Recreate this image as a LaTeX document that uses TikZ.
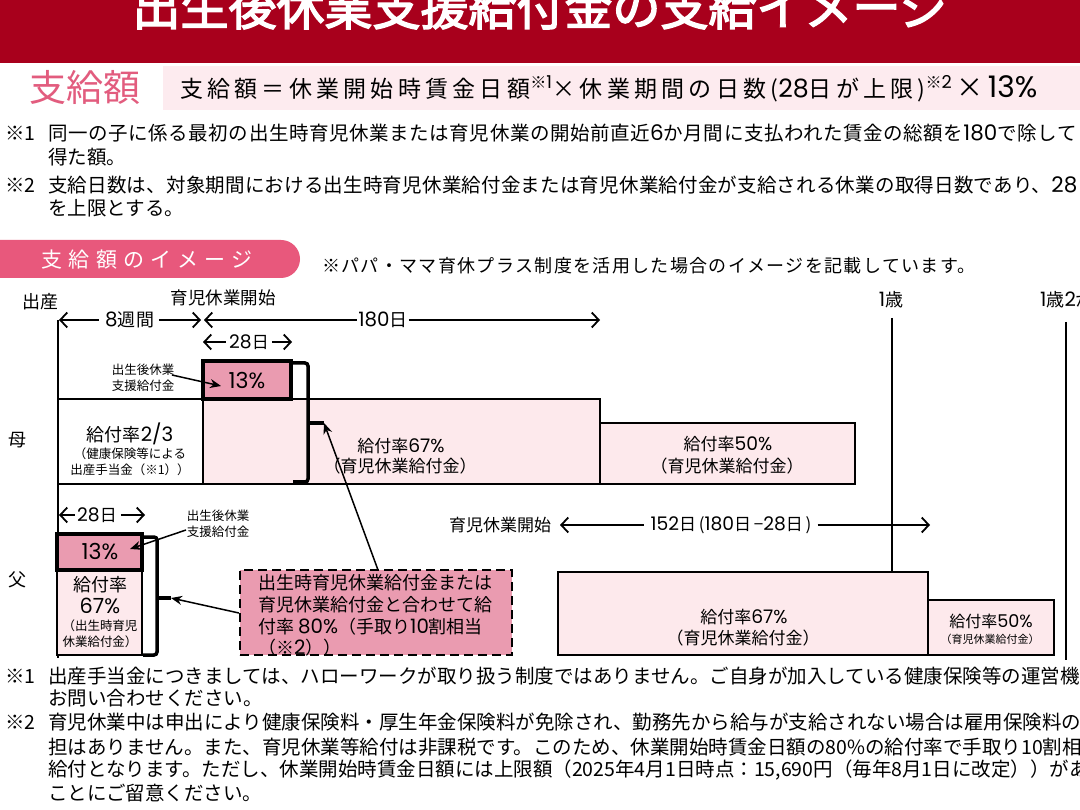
\documentclass[tikz,border=0pt]{standalone}
\usepackage{fontspec}
\setmainfont{Noto Sans CJK JP}
\newfontfamily\jpbold{Noto Sans CJK JP}[FakeBold=3]
\newfontfamily\digf{Poppins}[Scale=1.1]
\usetikzlibrary{arrows.meta}
\definecolor{hdr}{HTML}{A8001C}
\definecolor{pinktxt}{HTML}{E25C7E}
\definecolor{formbg}{HTML}{FDEBEF}
\definecolor{pill}{HTML}{E8587C}
\definecolor{midpink}{HTML}{EA9BB0}
\definecolor{lightpink}{HTML}{FDE9EC}
\newcommand\jfs[1]{\fontsize{#1}{#1}\selectfont}
\newcommand\lsp[1]{\addfontfeatures{LetterSpace=#1}}
\newcommand\dgt[1]{{\digf #1}}
\begin{document}
\begin{tikzpicture}[x=1pt,y=-1pt,
  t/.style={inner sep=0pt, font=\jfs{17}},
  ts/.style={inner sep=0pt, font=\jfs{12.5}},
  dl/.style={inner sep=0pt, font=\jfs{18}\lsp{6}},
  note/.style={inner sep=0pt, anchor=west, font=\jfs{19.5}},
  tnote/.style={inner sep=0pt, anchor=west, font=\jfs{19.5}\lsp{3}},
  blk/.style={draw=black, line width=1.5pt, fill=lightpink},
  wblk/.style={draw=black, line width=1.5pt, fill=white},
  pbox/.style={draw=black, line width=4pt, fill=midpink},
  brk/.style={draw=black, line width=3.5pt, rounded corners=3pt},
  vline/.style={draw=black, line width=2.5pt},
  la/.style={line width=1.8pt, {Straight Barb[length=7pt,width=15pt]}-},
  ra/.style={line width=1.8pt, -{Straight Barb[length=7pt,width=15pt]}},
  call/.style={line width=1.5pt, -{Stealth[length=11pt,width=9pt]}},
  ctxt/.style={inner sep=0pt, anchor=west, font=\jfs{18}}
]
\useasboundingbox (0,0) rectangle (1080,810);
\clip (0,0) rectangle (1080,810);
\fill[white] (0,0) rectangle (1080,810);

% header
\fill[hdr] (0,-5) rectangle (1080,63);
\node[inner sep=0pt, font=\jpbold\jfs{48}, text=white] (title) at (540,7) {出生後休業支援給付金の支給イメージ};

% formula
\fill[formbg] (163,66) rectangle (1085,110);
\node[inner sep=0pt, font=\jfs{37}, text=pinktxt] (amt) at (85,87) {支給額};
\node[inner sep=0pt, anchor=west, font=\jfs{23}\lsp{18.5}] (formula) at (180,89) {支給額＝休業開始時賃金日額\textsuperscript{※\dgt{1}}×休業期間の日数(\dgt{28}日が上限)\textsuperscript{※\dgt{2}}\,{\jfs{27}×\,\dgt{13\%}}};

% notes top
\node[note] (n1m) at (5,133) {※1};
\node[tnote] (n1a) at (48,133) {同一の子に係る最初の出生時育児休業または育児休業の開始前直近\dgt{6}か月間に支払われた賃金の総額を\dgt{180}で除して};
\node[note] (n1b) at (48,157) {得た額。};
\node[note] (n2m) at (5,185) {※2};
\node[inner sep=0pt, anchor=west, font=\jfs{19.5}\lsp{1}] (n2a) at (48,185) {支給日数は、対象期間における出生時育児休業給付金または育児休業給付金が支給される休業の取得日数であり、\dgt{28}日};
\node[note] (n2b) at (48,208) {を上限とする。};

% pill
\fill[pill, rounded corners=19pt] (-40,240) rectangle (300,278);
\node[inner sep=0pt, font=\jfs{21}\lsp{29}, text=white] (pilltxt) at (147,260) {支給額のイメージ};
\node[inner sep=0pt, anchor=west, font=\jfs{18}\lsp{7.5}] (plus) at (322,266) {※パパ・ママ育休プラス制度を活用した場合のイメージを記載しています。};

% timeline labels
\node[inner sep=0pt, font=\jfs{18}] (birth) at (40,302) {出産};
\node[inner sep=0pt, font=\jfs{17.5}] (start) at (223,298) {育児休業開始};
\node[dl] (age1) at (891,300) {\dgt{1}歳};
\node[dl, anchor=west] (age12) at (1040,300) {\dgt{1}歳\dgt{2}か月};

% vertical lines
\coordinate (v0t) at (58,320); \coordinate (v0b) at (58,658);
\coordinate (v1t) at (892,318); \coordinate (v1b) at (892,572);
\coordinate (v2t) at (1066,322); \coordinate (v2b) at (1066,660);
\draw[vline] (v0t) -- (v0b);
\draw[vline] (v1t) -- (v1b);
\draw[vline] (v2t) -- (v2b);

% top dimension row
\node[dl] (w8) at (130,320) {\dgt{8}週間};
\coordinate (w8l) at (59,320); \coordinate (w8r) at (201,320);
\draw[la] (w8l) -- ([xshift=-6pt]w8.west);
\draw[ra] ([xshift=4pt]w8.east) -- (w8r);
\node[dl] (d180) at (383,320) {\dgt{180}日};
\coordinate (d180l) at (204,320); \coordinate (d180r) at (600,320);
\draw[la] (d180l) -- ([xshift=-1pt]d180.west);
\draw[ra] ([xshift=1pt]d180.east) -- (d180r);
\node[inner sep=0pt, font=\jfs{17}\lsp{5}] (m28) at (249,342) {\dgt{28}日};
\coordinate (m28l) at (203,342); \coordinate (m28r) at (292,342);
\draw[la] (m28l) -- ([xshift=-3pt]m28.west);
\draw[ra] ([xshift=3pt]m28.east) -- (m28r);

% mother row
\node[inner sep=0pt, font=\jfs{18}] (mom) at (18,440) {母};
\path[wblk] (58,399) rectangle (203,484);
\path[blk] (203,399) rectangle (600,484);
\path[blk] (600,423) rectangle (855,484);
\node[inner sep=0pt, font=\jfs{18}] (m23a) at (130,434) {給付率\dgt{2/3}};
\node[ts] (m23b) at (130,454) {（健康保険等による};
\node[ts] (m23c) at (130,470) {出産手当金（※1））};
\node[t] (m67a) at (401,446) {給付率\dgt{67\%}};
\node[t] (m67b) at (400,466) {（育児休業給付金）};
\node[t] (m50a) at (728,444) {給付率\dgt{50\%}};
\node[t] (m50b) at (727,466) {（育児休業給付金）};
\path[pbox] (203,361) rectangle (291,399);
\node[inner sep=0pt, font=\jfs{20}] (m13) at (247,381) {\dgt{13\%}};
\draw[brk] (291,363) -- (308,363) -- (308,482) -- (293,482);
\coordinate (mtick) at (324,423);
\draw[line width=3.5pt] (308,423) -- (mtick);
\node[ts] (mlab1) at (143,370) {出生後休業};
\node[ts] (mlab2) at (143,386) {支援給付金};
\coordinate (mla) at (172,375); \coordinate (mlb) at (221,386);
\draw[call] (mla) -- (mlb);

% father row
\node[inner sep=0pt, font=\jfs{18}] (dad) at (18,580) {父};
\node[inner sep=0pt, font=\jfs{17}\lsp{5}] (f28) at (97,515) {\dgt{28}日};
\coordinate (f28l) at (59,515); \coordinate (f28r) at (145,515);
\draw[la] (f28l) -- ([xshift=-2pt]f28.west);
\draw[ra] ([xshift=4pt]f28.east) -- (f28r);
\path[blk] (57,570) rectangle (142,655);
\path[pbox] (57,534) rectangle (142,570);
\node[inner sep=0pt, font=\jfs{20}] (f13) at (100,552) {\dgt{13\%}};
\node[inner sep=0pt, font=\jfs{18}] (f67a) at (100,585) {給付率};
\node[inner sep=0pt, font=\jfs{19}] (f67b) at (100,606) {\dgt{67\%}};
\node[ts] (f67c) at (100,626) {（出生時育児};
\node[ts] (f67d) at (100,642) {休業給付金）};
\draw[brk] (142,537) -- (157,537) -- (157,655) -- (143,655);
\coordinate (ftick) at (171,598);
\draw[line width=3.5pt] (157,598) -- (ftick);
\node[ts] (flab1) at (218,516) {出生後休業};
\node[ts] (flab2) at (218,532) {支援給付金};
\coordinate (fla) at (186,530); \coordinate (flb) at (130,549);
\draw[call] (fla) -- (flb);

% callout
\node[draw=black, dash pattern=on 9pt off 5pt, line width=2.2pt, fill=midpink, minimum width=272pt, minimum height=85pt, inner sep=0pt] (callout) at (376,612.5) {};
\node[ctxt] (c1) at (258,583) {出生時育児休業給付金または};
\node[ctxt] (c2) at (258,605) {育児休業給付金と合わせて給};
\node[ctxt] (c3) at (258,627) {付率 \dgt{80\%}（手取り\dgt{10}割相当};
\node[ctxt] (c4) at (258,648) {（※\dgt{2}））};
\draw[call] (callout.west |- 0,613) -- (ftick);
\draw[call] (378,570) -- (mtick);

% father right part
\node[t] (fstart) at (500,525) {育児休業開始};
\node[inner sep=0pt, font=\jfs{17}\lsp{16}] (d152) at (731,525) {\dgt{152}日(\dgt{180}日−\dgt{28}日)};
\coordinate (d152l) at (560,525); \coordinate (d152r) at (930,525);
\draw[la] (d152l) -- ([xshift=-6pt]d152.west);
\draw[ra] ([xshift=6pt]d152.east) -- (d152r);
\path[blk] (558,572) rectangle (928,655);
\path[blk] (928,600) rectangle (1054,655);
\node[t] (f67x) at (744,617) {給付率\dgt{67\%}};
\node[t] (f67y) at (743,638) {（育児休業給付金）};
\node[inner sep=0pt, font=\jfs{16}] (f50a) at (991,621) {給付率\dgt{50\%}};
\node[inner sep=0pt, font=\jfs{11}] (f50b) at (990,639) {（育児休業給付金）};

% notes bottom
\node[note] (b1m) at (5,676) {※1};
\node[note] (b1a) at (48,676) {出産手当金につきましては、ハローワークが取り扱う制度ではありません。ご自身が加入している健康保険等の運営機関に};
\node[note] (b1b) at (48,698) {お問い合わせください。};
\node[note] (b2m) at (5,722) {※2};
\node[note] (b2a) at (48,722) {育児休業中は申出により健康保険料・厚生年金保険料が免除され、勤務先から給与が支給されない場合は雇用保険料の負};
\node[note] (b2b) at (48,747) {担はありません。また、育児休業等給付は非課税です。このため、休業開始時賃金日額の80\%の給付率で手取り10割相当の};
\node[note] (b2c) at (48,770) {給付となります。ただし、休業開始時賃金日額には上限額（2025年4月1日時点：15,690円（毎年8月1日に改定））がある};
\node[note] (b2d) at (48,793) {ことにご留意ください。};
\end{tikzpicture}
\end{document}
